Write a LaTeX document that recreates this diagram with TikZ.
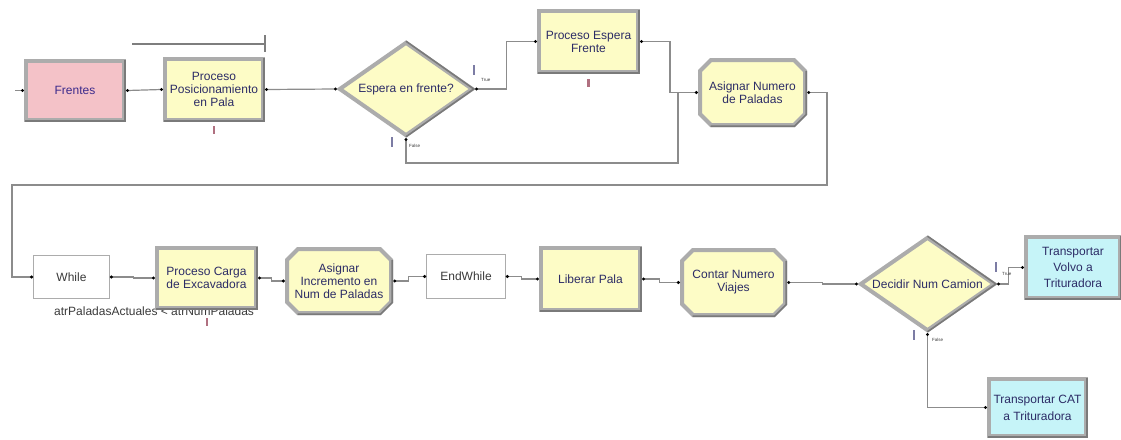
\documentclass[tikz,border=0pt]{standalone}
\usepackage{fontspec}
\setmainfont{Liberation Sans}
\usetikzlibrary{shapes.geometric,calc}

\definecolor{procY}{HTML}{FDFCC6}
\definecolor{pinkF}{HTML}{F4C2C8}
\definecolor{cyanT}{HTML}{C6F4F8}
\definecolor{frameG}{HTML}{ACACAC}
\definecolor{frameD}{HTML}{7A7A7A}
\definecolor{wireG}{HTML}{8C8C8C}
\definecolor{navyT}{HTML}{2C2C66}
\definecolor{purpT}{HTML}{3B2A8C}
\definecolor{greyT}{HTML}{3A3A3A}
\definecolor{markR}{HTML}{B07080}
\definecolor{markB}{HTML}{7C7CA4}

\tikzset{
  lbl/.style={font=\fontsize{12}{13}\selectfont, text=navyT, align=center, inner sep=0pt},
  proc/.style={lbl, rectangle, draw=frameG, line width=4pt, fill=procY},
  diam/.style={lbl, diamond, draw=frameG, line width=4pt, fill=procY, aspect=1.4, inner sep=1pt},
  wbox/.style={lbl, rectangle, draw=frameG, line width=0.8pt, fill=white, text=greyT},
  wire/.style={draw=wireG, line width=1.2pt},
  qline/.style={draw=wireG!90!black, line width=1.4pt},
  port/.style={fill=black},
  tiny/.style={font=\fontsize{4.5}{5}\selectfont, text=greyT, inner sep=0pt},
  cond/.style={font=\fontsize{12}{13}\selectfont, text=greyT, inner sep=0pt},
}

% darker lower/right rim of a framed rectangle
\newcommand\boxedge[1]{%
  \draw[frameD, line width=1.6pt]
    ($(#1.south west)+(0.8,-0.8)$) -- ($(#1.south east)+(-0.8,-0.8)$) -- ($(#1.north east)+(-0.8,0.8)$);}

% darker lower/right rim of a diamond
\newcommand\diamedge[1]{%
  \draw[frameD, line width=1.6pt]
    ($(#1.north)+(0,1.2)$) -- ($(#1.east)+(-1.2,0)$) -- ($(#1.south)+(0,-1.2)$);}

% entry and exit points of a module
\newcommand\ports[1]{%
  \coordinate (#1-in) at ($(#1.west)+(-1.5,0)$);
  \coordinate (#1-out) at ($(#1.east)+(1.5,0)$);}

% assign module: octagonal frame with its label node
\newcommand\octbox[6]{%
  \def\chmf{11}%
  \draw[frameG, line width=4pt, fill=procY]
    ({#2-#4/2+\chmf},{#3-#5/2}) -- ({#2+#4/2-\chmf},{#3-#5/2}) --
    ({#2+#4/2},{#3-#5/2+\chmf}) -- ({#2+#4/2},{#3+#5/2-\chmf}) --
    ({#2+#4/2-\chmf},{#3+#5/2}) -- ({#2-#4/2+\chmf},{#3+#5/2}) --
    ({#2-#4/2},{#3+#5/2-\chmf}) -- ({#2-#4/2},{#3-#5/2+\chmf}) -- cycle;
  \draw[frameD, line width=1.6pt]
    ({#2+#4/2+1.2},{#3-#5/2+\chmf}) -- ({#2+#4/2+1.2},{#3+#5/2-\chmf+0.5}) --
    ({#2+#4/2-\chmf+0.5},{#3+#5/2+1.2}) -- ({#2-#4/2+\chmf-0.5},{#3+#5/2+1.2});
  \node[lbl, minimum width={#4+4}, minimum height={#5+4}] (#1) at (#2,#3) {#6};
  \ports{#1}}

\begin{document}
\begin{tikzpicture}[x=1pt,y=-1pt]
\useasboundingbox (0,0) rectangle (1121,439);
\fill[white] (0,0) rectangle (1121,439);

% ---------- first row ----------
\node[proc, fill=pinkF, text=purpT, minimum width=98, minimum height=59] (frentes) at (75,90.5) {Frentes};
\boxedge{frentes}\ports{frentes}

\node[proc, minimum width=98, minimum height=61] (pos) at (214,89.5) {Proceso\\Posicionamiento\\en Pala};
\boxedge{pos}\ports{pos}

% queue of the seize in the process
\draw[qline] (132,44) -- (265,44);
\draw[qline] (265,35) -- (265,52);

\node[diam, minimum width=134, minimum height=94] (esp) at (406,89) {Espera en frente?};
\diamedge{esp}\ports{esp}
\coordinate (esp-f) at ($(esp.south)+(0,1.5)$);

\node[proc, minimum width=99, minimum height=61] (pef) at (588.5,41.5) {Proceso Espera\\Frente};
\boxedge{pef}\ports{pef}

\octbox{anp}{752.5}{92.5}{105}{65}{Asignar Numero\\de Paladas}

% ---------- second row ----------
\node[wbox, minimum width=76, minimum height=43] (while) at (71.5,277) {While};
\ports{while}

\node[cond, anchor=base west] (whilecond) at (54,315.5) {atrPaladasActuales < atrNumPaladas};

\node[proc, minimum width=99, minimum height=60] (pce) at (206.5,278) {Proceso Carga\\de Excavadora};
\boxedge{pce}\ports{pce}

\octbox{ainc}{339}{281}{104}{64}{Asignar\\Incremento en\\Num de Paladas}

\node[wbox, minimum width=79, minimum height=44] (endw) at (466,276.5) {EndWhile};
\ports{endw}

\node[proc, minimum width=99, minimum height=62] (lib) at (590.5,279) {Liberar Pala};
\boxedge{lib}\ports{lib}

\octbox{cnv}{733.5}{282.5}{103}{65}{Contar Numero\\Viajes}

\node[diam, minimum width=135, minimum height=94] (dnc) at (927.5,284) {Decidir Num Camion};
\diamedge{dnc}\ports{dnc}
\coordinate (dnc-f) at ($(dnc.south)+(0,1.5)$);

\node[proc, fill=cyanT, font=\fontsize{12}{16}\selectfont, minimum width=94, minimum height=61] (tvt) at (1073,267.5) {Transportar\\Volvo a\\Trituradora};
\boxedge{tvt}\ports{tvt}

\node[proc, fill=cyanT, font=\fontsize{12}{17}\selectfont, minimum width=97, minimum height=57] (tcat) at (1037.5,407.5) {Transportar CAT\\a Trituradora};
\boxedge{tcat}\ports{tcat}

% ---------- connectors ----------
\coordinate (src) at (15,90.5);
\draw[wire] (src) -- (frentes-in);
\draw[wire] (frentes-out) -- (pos-in);
\draw[wire] (pos-out) -- (esp-in);
\draw[wire] (esp-out) -- ++(30,0) |- (pef-in);
\draw[wire] (pef-out) -- ++(28.5,0) |- (anp-in);
\coordinate (fjoin) at (678,163);
\draw[wire] (esp-f) |- (fjoin) -- (fjoin |- anp-in);
\coordinate (wrapR) at (827,185);
\coordinate (wrapL) at (12,185);
\draw[wire] (anp-out) -| (wrapR) -- (wrapL) |- (while-in);

\draw[wire] (while-out) -- ++(22,0) |- (pce-in);
\draw[wire] (pce-out) -- ++(12,0) |- (ainc-in);
\draw[wire] (ainc-out) -- ++(14,0) |- (endw-in);
\draw[wire] (endw-out) -- ++(14,0) |- (lib-in);
\draw[wire] (lib-out) -- ++(16,0) |- (cnv-in);
\draw[wire] (cnv-out) -- ++(34,0) |- (dnc-in);
\draw[wire] (dnc-out) -- ++(10,0) |- (tvt-in);
\draw[wire] (dnc-f) |- (tcat-in);

% connection points
\foreach \p in {frentes-in,frentes-out,pos-in,pos-out,esp-in,esp-out,esp-f,pef-in,pef-out,anp-in,anp-out,
                while-in,while-out,pce-in,pce-out,ainc-in,ainc-out,endw-in,endw-out,lib-in,lib-out,
                cnv-in,cnv-out,dnc-in,dnc-out,dnc-f,tvt-in,tcat-in}
  \fill[port] (\p) circle (1.7);

% animation markers
\fill[markR] (212.8,126) rectangle (215.2,134);
\fill[markR] (587.3,79) rectangle (589.7,87);
\fill[markR] (205.8,318) rectangle (208.2,326);
\fill[markB] (472.8,65) rectangle (475.2,75);
\fill[markB] (390.8,137) rectangle (393.2,147);
\fill[markB] (994.8,262) rectangle (997.2,272);
\fill[markB] (912.8,330) rectangle (915.2,340);

% branch labels
\node[tiny, anchor=west] (esptrue) at (481,80) {True};
\node[tiny, anchor=west] (espfalse) at (409,146) {False};
\node[tiny, anchor=west] (dnctrue) at (1002,274) {True};
\node[tiny, anchor=west] (dncfalse) at (932,340) {False};
\end{tikzpicture}
\end{document}
